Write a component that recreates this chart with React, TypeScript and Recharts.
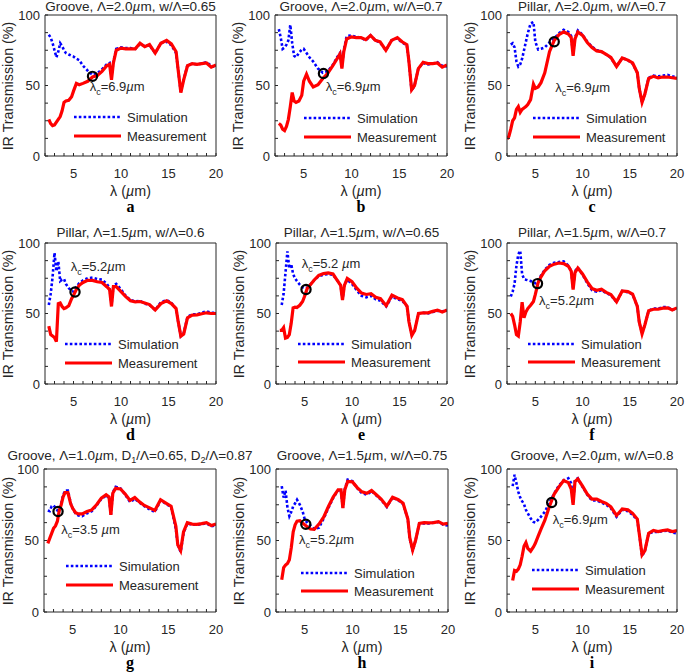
import React from "react";
import { LineChart, Line, XAxis, YAxis, ReferenceDot } from "recharts";

const N = null;

// wavelength grid, µm
const wavelength = [
  2.0, 2.2, 2.4, 2.6, 2.8, 3.0, 3.2, 3.4, 3.6, 3.8, 4.0, 4.2, 4.5, 4.8, 5.0, 5.3, 5.6,
  6.0, 6.5, 7.0, 7.5, 8.0, 8.5, 8.8, 9.0, 9.2, 9.5, 10, 10.5, 11, 11.5, 12, 12.5, 13, 13.6,
  14.2, 14.8, 15.3, 15.8, 16.0, 16.3, 16.6, 17.0, 17.5, 18, 18.5, 19, 19.5, 20,
];

// transmission (%) per panel
const measA = [N, N, 26, 23, 21.5, 22, 24, 26, 28, 32, 38, 39, 39.5, 42, 46, 51.5, 50.5, 51.5, 53, 56, 57, 60, 64, 65, 54, 66, 75, 76.5, 76, 76, 76, 80, 77.5, 79, 73, 80, 82, 79.5, 74, 62, 45, 54, 64, 65.5, 65, 65.5, 66, 63, 64.5];
const simA = [N, N, 86, 84, 80, 75, 70, 74, 80, 78, 75, 73, 72, 71, 70.5, 69, 68, 64, 60.5, 57.5, 58.5, 61.5, 65, 66, 56, 67, 76, 77, 76.5, 76.5, 76, 79.5, 78, 78.5, 73, 80, 81, 78.5, 73, 62, 45, 54, 64.5, 65.5, 65, 65.5, 66.5, 64, 63];

const measB = [N, N, 23, 22, 19, 18, 21, 26, 35, 45, 39, 38, 39, 43, 53, 58, 53, 49, 50.5, 55, 58.5, 63.5, 69, 72.5, 62, 74, 83, 84.5, 84, 84, 82.5, 85.5, 82, 81, 75, 82, 84, 81, 79, 68, 47, 50, 62, 66.5, 65.5, 65.5, 66, 63, 64.5];
const simB = [N, N, 90, 84, 76, 77, 79, 82, 93, 80, 71, 70, 73, 75.5, 76, 73, 70, 67, 62, 59, 60, 64, 70, 73, 63, 75, 85, 85.5, 84.5, 84, 82, 85.5, 82, 80.5, 75, 82, 83.5, 80.5, 78.5, 68, 46, 50, 62, 66, 65, 65.5, 66.5, 64, 63.5];

const measC = [12, 14, 19, 25, 27, 33, 35, 31, 33, 34, 35, 36.5, 40, 51, 48, 49, 52, 59, 74, 82, 86, 88, 86.5, 84, 71, 83, 88, 85.5, 80.5, 77, 74.5, 74, 72, 70, 63.5, 69.5, 68, 66, 59, 48, 38, 44, 55, 56.5, 55.5, 56, 56, 55.5, 55];
const simC = [N, N, 79, 80, 77, 67, 63.5, 65, 69, 75, 81, 87, 94, 95, 81, 75.5, 76, 77, 80.5, 83.5, 87, 89.5, 88, 85, 72, 84, 89, 86, 81, 77.5, 75, 74, 72, 69.5, 63.5, 69.5, 68, 65.5, 59, 48, 38, 44, 55.5, 57, 56.5, 57, 57.5, 56.5, 56];

const measD = [N, N, 41, 35, 34, 33, 30, 57, 57.5, 55, 53.5, 54, 55.5, 60.5, 63, 67, 70, 72, 73.5, 73.5, 72.5, 72, 69, 67, 55, 69, 69, 65.5, 62, 59, 58.3, 58.5, 57.5, 56.3, 52.5, 57, 59, 57, 53.5, 45, 34, 35.5, 47, 48.8, 49, 49.8, 50.5, 50, 50];
const simD = [N, N, 56, 64, 76, 93, 80, 87, 73, 74, 74.5, 71, 68, 66, 65.5, 69, 71.5, 73.5, 75, 75.5, 74.5, 74, 71, 68, 56, 70, 71, 67, 62.5, 59.5, 58.5, 59, 57, 56, 52.5, 58, 59.5, 57.5, 53.5, 45, 34, 36, 47.5, 49.5, 49.5, 50.5, 51.5, 50.5, 50.5];

const measE = [N, N, 38, 38, 40, 32.5, 33, 35, 43, 54, 54.5, 54.2, 55.8, 58.5, 62, 68, 70.2, 73.6, 77, 78.3, 78.8, 78, 73, 70, 59.5, 70, 74.8, 72.5, 68, 64.5, 63.5, 64, 61.5, 60.5, 55.5, 63, 61, 59.8, 55, 44, 34.5, 38, 50, 50.5, 50.5, 51.5, 52.4, 51, 52.5];
const simE = [N, N, N, 56, 64, 79, 94, 82, 85, 78, 75, 73, 70.5, 68.5, 68, 68.5, 70.5, 73.5, 76.5, 77.5, 78, 77.5, 73, 70, 60, 70, 74, 71, 66.5, 62.5, 61.5, 62.5, 60, 59, 55, 62, 60, 59, 55, 44, 35, 38, 50, 50.5, 50, 51, 52, 51.5, 52];

const measF = [N, N, 50, 48, 42, 35, 34, 44, 58, 47, 51, 53.5, 55.8, 58.5, 63.5, 72, 76, 80.3, 83.5, 85, 85.8, 85.4, 83.5, 80, 67, 79, 82.3, 78, 72.4, 67.7, 66.5, 67.3, 65, 63.5, 58.3, 66, 65.5, 63.8, 55, 44, 35.5, 42, 52, 53, 53, 53.8, 54, 52.5, 54];
const simF = [N, N, 62, 65.5, 71, 84, 92, 94.5, 78, 74.5, 74, 73.6, 73, 72, 71.5, 73, 77, 81, 84.5, 86, 86.5, 87, 84, 80, 68, 80, 82.5, 77.5, 71.5, 66.5, 65.5, 66.5, 64.5, 63, 58, 66, 65, 63.5, 55, 44, 36, 42, 52, 53.5, 53.5, 54.5, 54.5, 53, 53];

const measG = [N, N, 48, 51.5, 55, 58.5, 60.2, 63.5, 71, 75, 80.5, 83.5, 83.5, 75.5, 72.5, 69.5, 68.6, 68.6, 70.3, 71.4, 75, 79.6, 82, 80.5, 68, 83, 86.5, 86, 82.5, 78, 80, 77, 74.5, 73, 71, 78.5, 76, 74, 60, 47, 43, 56, 62.5, 61.5, 61.3, 61.8, 62.5, 60.5, 61.5];
const simG = [N, N, 71, 70.5, 74, 74.5, 73, 71, 72, 76, 81.5, 85, 85, 76, 72.5, 69, 67.5, 67, 69, 70.5, 74.5, 79, 81.5, 80, 68, 83.5, 87.5, 86.5, 82, 77, 79, 76.5, 74, 72, 70, 78, 75.5, 73.5, 58, 47, 42, 55, 62, 61, 61, 61.5, 62, 60, 60.5];

const measH = [N, N, N, 22.5, 31, 32.8, 34, 36.5, 45, 56, 61, 63.5, 63.8, 62, 61, 59.5, 58, 57.8, 61.5, 66.5, 74, 80.5, 85.5, 85.5, 72.6, 85.5, 91.3, 91, 87, 84, 83, 85, 82, 79, 74, 80.3, 78.5, 76, 65, 52, 43.3, 50, 62, 62.5, 62.3, 62.5, 63.2, 61.5, 62];
const simH = [N, N, N, 88, 80, 85, 73, 67, 70, 74, 76, 78.5, 75, 70, 65, 62, 60.5, 58, 59, 65.5, 73, 80, 85, 85, 73, 86, 92.5, 91.5, 86.5, 83, 82, 84.5, 81.5, 78.5, 73.5, 80, 78, 75.5, 65, 51, 42.5, 50, 62, 62, 62, 62.5, 63, 61, 60.5];

const measI = [N, N, N, 22, 29, 28.5, 30, 33, 39, 46, 48.5, 44.5, 42.5, 45.5, 48, 53, 58, 64, 74, 82.5, 87.5, 92, 90.5, 86, 75, 91.3, 93, 88, 82.5, 79, 79, 77.3, 76, 73.5, 67.5, 72, 71.4, 69, 65, 55, 40, 43, 55, 57, 56.3, 57, 57.4, 56.3, 57];
const simI = [N, N, N, 88, 96, 90, 84, 80, 77.5, 75.5, 71.5, 69, 65.5, 63, 62.5, 64.5, 66.7, 70, 76.5, 83, 88.5, 92, 93.5, 90, 76, 92.5, 93.5, 87.5, 82, 78, 78, 76.5, 75, 72.5, 66.5, 71.5, 70.5, 68, 64, 55, 39, 43, 55, 56, 56, 56.5, 57, 55.5, 55];

const xTicks = [2, 3, 4, 5, 6, 7, 8, 9, 10, 11, 12, 13, 14, 15, 16, 17, 18, 19, 20];
const yTicks = [0, 12.5, 25, 37.5, 50, 62.5, 75, 87.5, 100];

const FONT = "'Liberation Sans', Arial, Helvetica, sans-serif";
const INK = "#262626";

type PanelDef = {
  letter: string;
  title: string;
  sim: (number | null)[];
  meas: (number | null)[];
  left: number;
  right: number;
  top: number;
  bottom: number;
  lcX: number;
  lcY: number;
  noteX: number;
  noteY: number;
  note: string;
  legX: number;
  legY: number[];
  titleGap: number;
};

const panels: PanelDef[] = [
  { letter: "a", title: "Groove, Λ=2.0µm, w/Λ=0.65", sim: simA, meas: measA, left: 45, right: 216, top: 15, bottom: 156, lcX: 7.0, lcY: 56.5, noteX: 6.7, noteY: 49.2, note: "=6.9µm", legX: 29, legY: [102, 121], titleGap: 8 },
  { letter: "b", title: "Groove, Λ=2.0µm, w/Λ=0.7", sim: simB, meas: measB, left: 275, right: 447, top: 15, bottom: 156, lcX: 7.07, lcY: 58.5, noteX: 7.3, noteY: 49, note: "=6.9µm", legX: 29, legY: [103, 122], titleGap: 8 },
  { letter: "c", title: "Pillar, Λ=2.0µm, w/Λ=0.7", sim: simC, meas: measC, left: 507, right: 677, top: 15, bottom: 156, lcX: 7.0, lcY: 81, noteX: 7.1, noteY: 48.7, note: "=6.9µm", legX: 26, legY: [103, 122], titleGap: 8 },
  { letter: "d", title: "Pillar, Λ=1.5µm, w/Λ=0.6", sim: simD, meas: measD, left: 45, right: 216, top: 243, bottom: 384, lcX: 5.16, lcY: 65.3, noteX: 4.7, noteY: 83, note: "=5.2µm", legX: 20, legY: [101, 120], titleGap: 10 },
  { letter: "e", title: "Pillar, Λ=1.5µm, w/Λ=0.65", sim: simE, meas: measE, left: 276, right: 447, top: 243, bottom: 384, lcX: 5.16, lcY: 67, noteX: 4.7, noteY: 85.4, note: "=5.2 µm", legX: 22, legY: [101, 119], titleGap: 10 },
  { letter: "f", title: "Pillar, Λ=1.5µm, w/Λ=0.7", sim: simF, meas: measF, left: 507, right: 677, top: 243, bottom: 384, lcX: 5.23, lcY: 71.2, noteX: 5.4, noteY: 59.4, note: "=5.2µm", legX: 21, legY: [101, 119], titleGap: 10 },
  { letter: "g", title: "Groove, Λ=1.0µm, D_1/Λ=0.65, D_2/Λ=0.87", sim: simG, meas: measG, left: 44, right: 216, top: 469, bottom: 612, lcX: 3.47, lcY: 70.3, noteX: 3.8, noteY: 57.8, note: "=3.5 µm", legX: 22, legY: [97, 116], titleGap: 13 },
  { letter: "h", title: "Groove, Λ=1.5µm, w/Λ=0.75", sim: simH, meas: measH, left: 276, right: 448, top: 469, bottom: 612, lcX: 5.12, lcY: 61.4, noteX: 4.42, noteY: 50.4, note: "=5.2µm", legX: 25, legY: [104, 122], titleGap: 13 },
  { letter: "i", title: "Groove, Λ=2.0µm, w/Λ=0.8", sim: simI, meas: measI, left: 507, right: 677, top: 469, bottom: 612, lcX: 6.73, lcY: 76.6, noteX: 6.84, noteY: 64.4, note: "=6.9µm", legX: 25, legY: [101, 120], titleGap: 13 },
];

function RichText({ text }: { text: string }) {
  const parts = text.split(/(µ|_\d)/);
  return (
    <>
      {parts.map((s, i) => {
        if (s === "µ") return <span key={i} style={{ fontStyle: "italic" }}>µ</span>;
        if (s.startsWith("_"))
          return (
            <span key={i} style={{ fontSize: 9, position: "relative", top: 3 }}>
              {s.slice(1)}
            </span>
          );
        return <React.Fragment key={i}>{s}</React.Fragment>;
      })}
    </>
  );
}

const noteLabel = (note: string) => (props: any) => {
  const vb = props.viewBox || {};
  const [pre, post] = note.split("µ");
  return (
    <text x={vb.x} y={vb.y + 4.5} fontSize={13} fontFamily={FONT} fill={INK}>
      λ
      <tspan dy={4} fontSize={9}>c</tspan>
      <tspan dy={-4}>{pre}</tspan>
      <tspan fontStyle="italic">µ</tspan>
      {post}
    </text>
  );
};

const xFmt = (v: number) => (v % 5 === 0 ? String(v) : "");
const yFmt = (v: number) => (v % 50 === 0 ? String(v) : "");
const tickFont = { fill: INK, fontSize: 13, fontFamily: FONT };
const axisStroke = { stroke: INK, strokeWidth: 1 };

function Panel({ p }: { p: PanelDef }) {
  const w = p.right - p.left;
  const h = p.bottom - p.top;
  const data = wavelength.map((x, i) => ({ x, sim: p.sim[i], meas: p.meas[i] }));
  const midX = (p.left + p.right) / 2;
  const midY = (p.top + p.bottom) / 2;
  const yLabelX = Math.max(p.left - 37, 7.5);
  return (
    <>
      <div style={{ position: "absolute", left: p.left - 45, top: p.top - 25 }}>
        <LineChart
          width={w + 57}
          height={h + 55}
          data={data}
          margin={{ top: 24, right: 11, bottom: 29, left: 44 }}
        >
          <XAxis xAxisId="b" dataKey="x" type="number" domain={[2, 20]} allowDataOverflow
            ticks={xTicks} interval={0} tickFormatter={xFmt} height={1}
            tickSize={-3} tickMargin={15.5} axisLine={axisStroke} tickLine={axisStroke} tick={tickFont} />
          <XAxis xAxisId="t" orientation="top" dataKey="x" type="number" domain={[2, 20]} allowDataOverflow
            ticks={xTicks} interval={0} height={1} tickSize={-3} axisLine={axisStroke} tickLine={axisStroke} tick={false} />
          <YAxis yAxisId="l" type="number" domain={[0, 100]} allowDataOverflow
            ticks={yTicks} interval={0} tickFormatter={yFmt} width={1}
            tickSize={-3} tickMargin={8} axisLine={axisStroke} tickLine={axisStroke} tick={tickFont} />
          <YAxis yAxisId="r" orientation="right" type="number" domain={[0, 100]} allowDataOverflow
            ticks={yTicks} interval={0} width={1} tickSize={-3} axisLine={axisStroke} tickLine={axisStroke} tick={false} />
          <Line xAxisId="b" yAxisId="l" type="linear" dataKey="sim" stroke="#0000ff" strokeWidth={2.6}
            strokeDasharray="2.6 2.2" dot={false} isAnimationActive={false} />
          <Line xAxisId="b" yAxisId="l" type="linear" dataKey="meas" stroke="#ff0000" strokeWidth={3.2}
            dot={false} isAnimationActive={false} />
          <ReferenceDot xAxisId="b" yAxisId="l" x={p.lcX} y={p.lcY} r={4.6} fill="none" stroke="#000" strokeWidth={2.2} />
          <ReferenceDot xAxisId="b" yAxisId="l" x={p.noteX} y={p.noteY} r={0} fill="none" stroke="none" label={noteLabel(p.note)} />
        </LineChart>
      </div>
      <div style={{ position: "absolute", left: midX - 200, width: 400, top: p.top - p.titleGap - 7, height: 14, lineHeight: "14px", textAlign: "center", whiteSpace: "nowrap", fontFamily: FONT, fontSize: 13.5, color: INK }}>
        <RichText text={p.title} />
      </div>
      <div style={{ position: "absolute", left: yLabelX - 100, width: 200, top: midY - 7, height: 14, lineHeight: "14px", textAlign: "center", whiteSpace: "nowrap", fontFamily: FONT, fontSize: 14.3, color: INK, transform: "rotate(-90deg)" }}>
        IR Transmission (%)
      </div>
      <div style={{ position: "absolute", left: midX - 60, width: 120, top: p.bottom + 35 - 9, height: 18, lineHeight: "18px", textAlign: "center", fontFamily: FONT, fontSize: 14.3, color: INK }}>
        λ (<span style={{ fontStyle: "italic" }}>µ</span>m)
      </div>
      <div style={{ position: "absolute", left: midX - 20, width: 40, top: p.bottom + 51 - 10, height: 20, lineHeight: "20px", textAlign: "center", fontFamily: "'Liberation Serif', 'Times New Roman', serif", fontWeight: "bold", fontSize: 16, color: "#000" }}>
        {p.letter}
      </div>
      {["Simulation", "Measurement"].map((name, k) => (
        <div key={name} style={{ position: "absolute", left: p.left + p.legX, top: p.top + p.legY[k] - 8, height: 16, display: "flex", alignItems: "center", whiteSpace: "nowrap", fontFamily: FONT, fontSize: 13, color: INK }}>
          <svg width={47} height={6} style={{ display: "block" }}>
            {k === 0 ? (
              <line x1={0} y1={3} x2={47} y2={3} stroke="#0000ff" strokeWidth={2.6} strokeDasharray="2.6 2.2" />
            ) : (
              <line x1={0} y1={3} x2={47} y2={3} stroke="#ff0000" strokeWidth={3.2} />
            )}
          </svg>
          <span style={{ marginLeft: 6 }}>{name}</span>
        </div>
      ))}
    </>
  );
}

export default function App() {
  return (
    <div style={{ position: "absolute", left: 0, top: 0, width: 685, height: 672, background: "#fff", overflow: "hidden" }}>
      {panels.map((p) => (
        <Panel key={p.letter} p={p} />
      ))}
    </div>
  );
}
